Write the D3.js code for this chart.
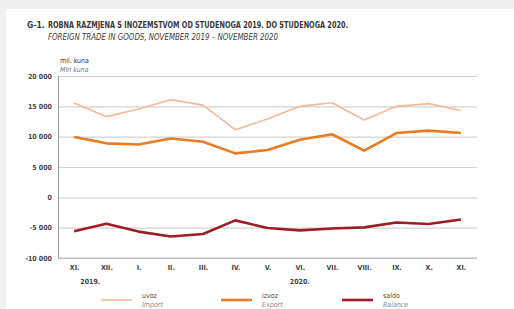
<!DOCTYPE html>
<html>
<head>
<meta charset="utf-8">
<script src="https://cdn.jsdelivr.net/npm/d3@7"></script>
<style>
  body { margin: 0; background: #f0f0f0; }
  svg { display: block; }
  text { font-family: "Liberation Sans Narrow", "DejaVu Sans Condensed", sans-serif; fill: #3a3a3a; }
</style>
</head>
<body>
<svg></svg>
<script>
// data (mil. kuna)
const months = ["XI.", "XII.", "I.", "II.", "III.", "IV.", "V.", "VI.", "VII.", "VIII.", "IX.", "X.", "XI."];
const uvoz = [15550, 13300, 14550, 16100, 15200, 11150, 12900, 15000, 15600, 12750, 15000, 15450, 14300];
const izvoz = [9950, 8900, 8700, 9700, 9150, 7250, 7800, 9500, 10400, 7700, 10600, 11000, 10600];
const saldo = [-5600, -4350, -5650, -6450, -6050, -3800, -5050, -5450, -5150, -4950, -4150, -4400, -3650];
const yTicks = [-10000, -5000, 0, 5000, 10000, 15000, 20000];
const years = [{ label: "2019.", i: 0.5 }, { label: "2020.", i: 7 }];

const width = 514, height = 309;
const margin = { top: 76, right: 37, bottom: 51, left: 58 };

const svg = d3.select("svg")
  .attr("width", width)
  .attr("height", height);

// white card on grey page
svg.append("rect")
  .attr("x", 6).attr("y", 9)
  .attr("width", width - 6).attr("height", height - 9)
  .attr("fill", "#fff");

const x = d3.scalePoint()
  .domain(d3.range(months.length))
  .range([margin.left, width - margin.right])
  .padding(0.5);

const y = d3.scaleLinear()
  .domain([-10000, 20000])
  .range([height - margin.bottom, margin.top]);

const fmt = d => d3.format(",")(d).replace(/,/g, " ").replace("\u2212", "-");

// title
svg.append("text")
  .attr("x", 27).attr("y", 28)
  .style("font-size", "8.5px").style("font-weight", "bold")
  .text("G-1.");
svg.append("text")
  .attr("x", 48).attr("y", 28)
  .attr("textLength", 300).attr("lengthAdjust", "spacingAndGlyphs")
  .style("font-size", "8.5px").style("font-weight", "bold")
  .text("ROBNA RAZMJENA S INOZEMSTVOM OD STUDENOGA 2019. DO STUDENOGA 2020.");
svg.append("text")
  .attr("x", 48).attr("y", 40)
  .attr("textLength", 230).attr("lengthAdjust", "spacingAndGlyphs")
  .style("font-size", "8px").style("font-style", "italic")
  .text("FOREIGN TRADE IN GOODS, NOVEMBER 2019 \u2013 NOVEMBER 2020");

// unit
svg.append("text")
  .attr("x", 60).attr("y", 63)
  .style("font-size", "7px").style("fill", "#333")
  .text("mil. kuna");
svg.append("text")
  .attr("x", 60).attr("y", 72)
  .style("font-size", "7px").style("font-style", "italic").style("fill", "#777")
  .text("Mln kuna");

// gridlines
svg.append("g")
  .attr("transform", `translate(${margin.left},0)`)
  .call(d3.axisLeft(y).tickValues(yTicks).tickSize(-(width - margin.left - margin.right)).tickFormat(""))
  .call(g => g.select(".domain").remove())
  .call(g => g.selectAll("line").attr("stroke", "#d2d2d2").attr("stroke-width", 1.2));

// y axis labels
svg.append("g")
  .attr("transform", `translate(${margin.left},0)`)
  .call(d3.axisLeft(y).tickValues(yTicks).tickSize(0).tickPadding(6).tickFormat(fmt))
  .call(g => g.select(".domain").attr("stroke", "#9a9a9a"))
  .call(g => g.selectAll("text").style("font-size", "7px").style("font-weight", "bold").style("fill", "#444"));

// bottom axis line
svg.append("line")
  .attr("x1", margin.left).attr("x2", width - margin.right)
  .attr("y1", y(-10000)).attr("y2", y(-10000))
  .attr("stroke", "#b5b5b5").attr("stroke-width", 1.2);

// x axis labels
svg.append("g")
  .attr("transform", `translate(0,${y(-10000)})`)
  .call(d3.axisBottom(x).tickSize(0).tickPadding(7).tickFormat(i => months[i]))
  .call(g => g.select(".domain").remove())
  .call(g => g.selectAll("text").style("font-size", "7px").style("font-weight", "bold").style("fill", "#444"));

svg.selectAll(".year")
  .data(years)
  .enter()
  .append("text")
  .attr("class", "year")
  .attr("x", d => x(0) + d.i * x.step())
  .attr("y", 284)
  .attr("text-anchor", "middle")
  .style("font-size", "7px").style("font-weight", "bold").style("fill", "#444")
  .text(d => d.label);

// lines
const series = [
  { name: "uvoz", en: "Import", values: uvoz, color: "#f3b896", w: 1.6, lx: 101 },
  { name: "izvoz", en: "Export", values: izvoz, color: "#ea7b1e", w: 2.6, lx: 221 },
  { name: "saldo", en: "Balance", values: saldo, color: "#9c1d24", w: 2.6, lx: 342 }
];

const line = d3.line()
  .x((d, i) => x(i))
  .y(d => y(d));

svg.selectAll(".series")
  .data(series)
  .enter()
  .append("path")
  .attr("class", "series")
  .attr("d", d => line(d.values))
  .attr("fill", "none")
  .attr("stroke", d => d.color)
  .attr("stroke-width", d => d.w)
  .attr("stroke-linejoin", "round");

// legend
const legend = svg.selectAll(".legend")
  .data(series)
  .enter()
  .append("g")
  .attr("class", "legend")
  .attr("transform", d => `translate(${d.lx},0)`);

legend.append("line")
  .attr("x1", 0).attr("x2", 31)
  .attr("y1", 300).attr("y2", 300)
  .attr("stroke", d => d.color)
  .attr("stroke-width", d => d.w);

legend.append("text")
  .attr("x", 41).attr("y", 298)
  .style("font-size", "7px").style("fill", "#444")
  .text(d => d.name);

legend.append("text")
  .attr("x", 41).attr("y", 307)
  .style("font-size", "7px").style("font-style", "italic").style("fill", "#888")
  .text(d => d.en);
</script>
</body>
</html>
